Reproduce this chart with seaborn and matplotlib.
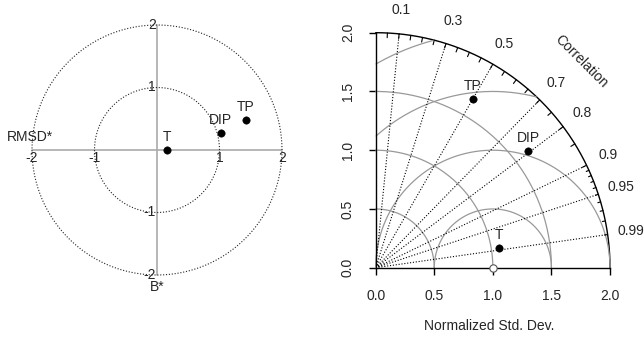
import numpy as np
import pandas as pd
import seaborn as sns
import matplotlib.pyplot as plt

# --- values --------------------------------------------------------
models = ["T", "DIP", "TP"]
norm_std = [1.067, 1.637, 1.656]       # normalized standard deviation
correlation = [0.988, 0.794, 0.502]    # correlation with observations
rmsd_star = [0.16, 1.02, 1.42]         # target diagram x (RMSD*)
bias_star = [0.0, 0.27, 0.48]          # target diagram y (B*)

target_ticks = [-2, -1, 1, 2]
target_circles = [1, 2]
std_ticks = [0.0, 0.5, 1.0, 1.5, 2.0]
std_arcs = [0.5, 1.0, 1.5]
rmsd_arcs = [0.5, 1.0, 1.5, 2.0]
corr_lines = [0.1, 0.3, 0.5, 0.7, 0.8, 0.9, 0.95, 0.99]
max_sd = 2.0

sns.set_theme(style="white")
plt.rcParams["font.family"] = ["Liberation Sans", "DejaVu Sans"]
fs = 10

fig = plt.figure(figsize=(6.44, 3.38), dpi=100)

# --- left: target diagram ------------------------------------------
ax1 = fig.add_axes([0, 0, 320 / 644, 1])
ax1.set_xlim(-157 / 62.5, (320 - 157) / 62.5)
ax1.set_ylim(-(338 - 150) / 62.5, 150 / 62.5)
ax1.axis("off")

theta = np.linspace(0, 2 * np.pi, 400)
for r in target_circles:
    ax1.plot(r * np.cos(theta), r * np.sin(theta), color="#222222",
             lw=0.8, ls=(0, (1, 1.6)))
ax1.plot([-2, 2], [0, 0], color="#aaaaaa", lw=1.2, zorder=1)
ax1.plot([0, 0], [-2, 2], color="#aaaaaa", lw=1.2, zorder=1)
for t in target_ticks:
    ax1.text(t, -0.01, str(t), ha="center", va="top", fontsize=fs)
    ax1.text(-0.02, t, str(t), ha="right", va="center", fontsize=fs)
ax1.text(-2.03, 0.21, "RMSD*", ha="center", va="center", fontsize=fs)
ax1.text(0, -2.19, "B*", ha="center", va="center", fontsize=fs)

tdf = pd.DataFrame({"model": models, "x": rmsd_star, "y": bias_star})
sns.scatterplot(data=tdf, x="x", y="y", ax=ax1, color="black", s=28,
                edgecolor="black", zorder=5, legend=False)
for _, row in tdf.iterrows():
    ax1.annotate(row["model"], (row["x"], row["y"]), xytext=(0, 4.5),
                 textcoords="offset points", ha="center", va="bottom",
                 fontsize=fs)

# --- right: Taylor diagram -----------------------------------------
ax2 = fig.add_axes([375.7 / 644, (338 - 267.7) / 338, 234.3 / 644, 235 / 338])
ax2.set_xlim(0, max_sd)
ax2.set_ylim(0, max_sd)
for s in ["top", "right"]:
    ax2.spines[s].set_visible(False)
for s in ["left", "bottom"]:
    ax2.spines[s].set_color("black")
    ax2.spines[s].set_linewidth(1)
ax2.set_xticks(std_ticks)
ax2.set_yticks(std_ticks)
ax2.set_xticklabels([f"{v:.1f}" for v in std_ticks])
ax2.set_yticklabels([f"{v:.1f}" for v in std_ticks], rotation=90, va="center")
ax2.tick_params(bottom=True, left=True, direction="out", length=5, width=1,
                color="black", labelsize=fs, pad=10)

quarter = np.linspace(0, np.pi / 2, 300)
ax2.plot(max_sd * np.cos(quarter), max_sd * np.sin(quarter), color="black",
         lw=1, clip_on=False)
for r in std_arcs:
    ax2.plot(r * np.cos(quarter), r * np.sin(quarter), color="#999999",
             lw=0.9, clip_on=False)
half = np.linspace(0, np.pi, 600)
for r in rmsd_arcs:
    x = 1 + r * np.cos(half)
    y = r * np.sin(half)
    keep = (x >= 0) & (x ** 2 + y ** 2 <= max_sd ** 2)
    ax2.plot(np.where(keep, x, np.nan), np.where(keep, y, np.nan),
             color="#999999", lw=0.9, clip_on=False)

for c in corr_lines:
    s = np.sqrt(1 - c ** 2)
    ax2.plot([0, max_sd * c], [0, max_sd * s], color="black", lw=0.8,
             ls=(0, (1, 1.6)))
    ax2.text(2.2 * c, 2.2 * s, f"{c:g}", ha="center", va="center", fontsize=fs,
             clip_on=False)

for c in np.arange(0.05, 0.91, 0.05):
    s = np.sqrt(1 - c ** 2)
    ax2.plot([1.96 * c, max_sd * c], [1.96 * s, max_sd * s], color="black",
             lw=0.8, clip_on=False)
for c in np.arange(0.91, 0.995, 0.01):
    s = np.sqrt(1 - c ** 2)
    ax2.plot([1.975 * c, max_sd * c], [1.975 * s, max_sd * s], color="black",
             lw=0.8, clip_on=False)

ax2.text(2.48 * np.cos(np.pi / 4), 2.48 * np.sin(np.pi / 4), "Correlation",
         rotation=-45, ha="center", va="center", fontsize=fs,
         rotation_mode="anchor", clip_on=False)
ax2.text(0.97, -0.496, "Normalized Std. Dev.", ha="center", va="center",
         fontsize=fs, clip_on=False)

ax2.scatter([1.0], [0.0], s=28, facecolor="white", edgecolor="#555555",
            lw=0.8, zorder=6, clip_on=False)

corr = np.array(correlation)
sd = np.array(norm_std)
pdf = pd.DataFrame({"model": models, "x": sd * corr,
                    "y": sd * np.sqrt(1 - corr ** 2)})
sns.scatterplot(data=pdf, x="x", y="y", ax=ax2, color="black", s=28,
                edgecolor="black", zorder=5, legend=False)
for _, row in pdf.iterrows():
    ax2.annotate(row["model"], (row["x"], row["y"]), xytext=(0, 4.5),
                 textcoords="offset points", ha="center", va="bottom",
                 fontsize=fs)
ax2.set_xlabel("")
ax2.set_ylabel("")

fig.savefig("out.png", dpi=100)
